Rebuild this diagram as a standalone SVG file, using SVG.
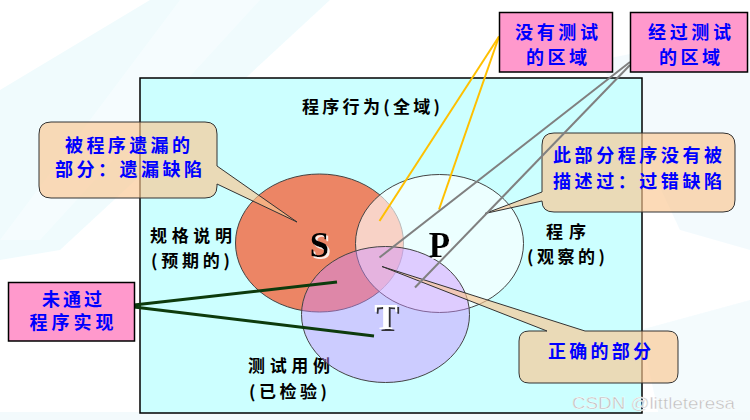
<svg xmlns="http://www.w3.org/2000/svg" width="750" height="420" viewBox="0 0 750 420">
<defs>
<style>
.cjk{font-family:"Noto Sans CJK SC","Noto Sans",sans-serif;font-weight:bold;}
.blue{fill:#0000FF;font-size:18px;}
.blk{fill:#000;font-size:17px;}
.pink{fill:#FF99CC;stroke:#000;stroke-width:1.5;}
.call{fill:rgb(251,198,144);fill-opacity:0.65;stroke:#333;stroke-width:1;}
.ell{stroke:#444;stroke-width:1;}
.let{font-family:"Liberation Serif","DejaVu Serif",serif;font-weight:bold;font-size:35px;}
</style>
<filter id="shLight" x="-20%" y="-20%" width="150%" height="150%">
<feDropShadow dx="2" dy="2" stdDeviation="0.6" flood-color="#FFFFFF" flood-opacity="0.85"/>
</filter>
<filter id="shDark" x="-20%" y="-20%" width="150%" height="150%">
<feDropShadow dx="2" dy="2" stdDeviation="0.6" flood-color="#222222" flood-opacity="0.9"/>
</filter>
</defs>
<rect x="0" y="0" width="750" height="420" fill="#FFFFFF"/>
<g id="background" opacity="0.7">
<polygon points="0,90 150,0 330,0 60,250 0,260" fill="#EAFAFD"/>
<polygon points="180,0 260,0 40,240 0,240" fill="#F2FCFE"/>
<polygon points="600,60 750,30 750,250 680,230" fill="#EEF8FC"/>
<polygon points="640,330 750,300 750,420 660,420" fill="#F0FAFD"/>
<rect x="0" y="412" width="750" height="8" fill="#EEF8FB"/>
</g>
<g id="universe">
<rect x="140" y="78" width="502" height="335" fill="#CCFFFF" stroke="#000" stroke-width="1.5"/>
<text class="cjk blk" x="302" y="105" dominant-baseline="central" textLength="138" lengthAdjust="spacing">程序行为(全域)</text>
</g>
<g id="label-spec">
<text class="cjk blk" x="150" y="234" dominant-baseline="central" textLength="82" lengthAdjust="spacing">规格说明</text>
<text class="cjk blk" x="151" y="259" dominant-baseline="central" textLength="79" lengthAdjust="spacing">(预期的)</text>
</g>
<g id="label-test">
<text class="cjk blk" x="248" y="364" dominant-baseline="central" textLength="82" lengthAdjust="spacing">测试用例</text>
<text class="cjk blk" x="249" y="390" dominant-baseline="central" textLength="78" lengthAdjust="spacing">(已检验)</text>
</g>
<g id="label-prog">
<text class="cjk blk" x="546" y="230" dominant-baseline="central" textLength="40" lengthAdjust="spacing">程序</text>
<text class="cjk blk" x="527" y="255" dominant-baseline="central" textLength="78" lengthAdjust="spacing">(观察的)</text>
</g>
<g id="S">
<ellipse class="ell" cx="319.5" cy="243" rx="84" ry="69" fill="#EC8565"/>
</g>
<g id="P">
<ellipse class="ell" cx="439.5" cy="243.5" rx="84" ry="69" fill="#FFFFFF" fill-opacity="0.63"/>
</g>
<g id="T">
<ellipse class="ell" cx="385.5" cy="314.5" rx="84" ry="68" fill="rgb(204,140,255)" fill-opacity="0.44"/>
</g>
<g id="letters">
<text class="let" x="319.5" y="256.5" text-anchor="middle" fill="#000" filter="url(#shLight)">S</text>
<text class="let" x="439.5" y="256.5" text-anchor="middle" fill="#000" filter="url(#shLight)">P</text>
<text class="let" x="386" y="328.5" text-anchor="middle" fill="#FFFFFF" filter="url(#shDark)">T</text>
</g>
<g id="callout-missing">
<path class="call" d="M51,122 H205 Q217,122 217,134 V166 L297,222 L217,184 V186 Q217,198 205,198 H51 Q39,198 39,186 V134 Q39,122 51,122 Z"/>
<text class="cjk blue" x="65" y="143.5" dominant-baseline="central" textLength="125" lengthAdjust="spacing">被程序遗漏的</text>
<text class="cjk blue" x="55" y="168" dominant-baseline="central" textLength="147" lengthAdjust="spacing">部分：遗漏缺陷</text>
</g>
<g id="callout-undescribed">
<path class="call" d="M554,133 H723 Q735,133 735,145 V200 Q735,212 723,212 H554 Q542,212 542,201 L485,213.5 L542,192 V145 Q542,133 554,133 Z"/>
<text class="cjk blue" x="553" y="154" dominant-baseline="central" textLength="169" lengthAdjust="spacing">此部分程序没有被</text>
<text class="cjk blue" x="553" y="180" dominant-baseline="central" textLength="169" lengthAdjust="spacing">描述过：过错缺陷</text>
</g>
<g id="callout-correct">
<path class="call" d="M529,331 H547 L382,266.5 L585,331 H668 Q678,331 678,341 V373 Q678,383 668,383 H529 Q519,383 519,373 V341 Q519,331 529,331 Z"/>
<text class="cjk blue" x="548" y="349.5" dominant-baseline="central" textLength="103" lengthAdjust="spacing">正确的部分</text>
</g>
<g id="connectors" fill="none">
<line x1="499" y1="36.5" x2="379.5" y2="221" stroke="#FFC000" stroke-width="2"/>
<line x1="499" y1="36.5" x2="439" y2="209.5" stroke="#FFC000" stroke-width="2"/>
<line x1="630" y1="62" x2="379.5" y2="257.5" stroke="#808080" stroke-width="2"/>
<line x1="630" y1="65" x2="415" y2="287.5" stroke="#808080" stroke-width="2"/>
<line x1="134" y1="305" x2="337" y2="282" stroke="#0D3B0D" stroke-width="3"/>
<line x1="134" y1="307" x2="374" y2="336" stroke="#0D3B0D" stroke-width="3"/>
</g>
<g id="box-untested">
<rect class="pink" x="499.5" y="12.5" width="113" height="59.5"/>
<text class="cjk blue" x="515" y="31" dominant-baseline="central" textLength="83" lengthAdjust="spacing">没有测试</text>
<text class="cjk blue" x="526" y="55.5" dominant-baseline="central" textLength="61" lengthAdjust="spacing">的区域</text>
</g>
<g id="box-tested">
<rect class="pink" x="630.5" y="12.5" width="117" height="59.5"/>
<text class="cjk blue" x="648" y="31" dominant-baseline="central" textLength="83" lengthAdjust="spacing">经过测试</text>
<text class="cjk blue" x="659" y="55.5" dominant-baseline="central" textLength="61" lengthAdjust="spacing">的区域</text>
</g>
<g id="box-failed">
<rect class="pink" x="8.5" y="282.5" width="126" height="58.5"/>
<text class="cjk blue" x="42" y="297.5" dominant-baseline="central" textLength="60" lengthAdjust="spacing">未通过</text>
<text class="cjk blue" x="29.5" y="321" dominant-baseline="central" textLength="84" lengthAdjust="spacing">程序实现</text>
</g>
<g id="watermark">
<text x="572" y="409" font-family="Liberation Sans, Arial, sans-serif" font-size="17" fill="#BDBDBD" stroke="#FFFFFF" stroke-width="0.4" textLength="163" lengthAdjust="spacingAndGlyphs">CSDN @littleteresa</text>
</g>
</svg>
